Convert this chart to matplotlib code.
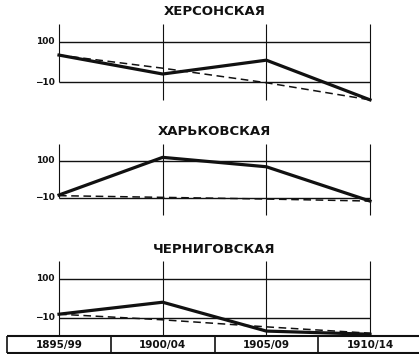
import matplotlib.pyplot as plt

plt.rcParams['font.family'] = ['DejaVu Sans']

periods = ["1895/99", "1900/04", "1905/09", "1910/14"]
regions = ["ХЕРСОНСКАЯ", "ХАРЬКОВСКАЯ", "ЧЕРНИГОВСКАЯ"]
y_ticks = [100, -10]
tick_labels = ["100", "−10"]

# solid line per region
kherson_solid = [64, 12, 50, -59]
kharkov_solid = [-2, 110, 82, -20]
chernigov_solid = [0, 34, -48, -57]
# dashed line per region
kherson_dashed = [64, 28, -12, -59]
kharkov_dashed = [-4, -9, -14, -20]
chernigov_dashed = [0, -16, -36, -54]

W, H = 419, 354
fig = plt.figure(figsize=(W / 100, H / 100), dpi=100)
fig.patch.set_facecolor('white')

# pixel extents of each panel: (top, bottom) of the plotting box
panel_px = [(23.8, 100.2), (143.9, 214.5), (261.4, 335.3)]
x_left, x_right = 59, 370
solids = [kherson_solid, kharkov_solid, chernigov_solid]
dashes = [kherson_dashed, kharkov_dashed, chernigov_dashed]
xs = list(range(len(periods)))
ink = '#111111'

for k, (top, bot) in enumerate(panel_px):
    ax = fig.add_axes([x_left / W, 1 - bot / H, (x_right - x_left) / W, (bot - top) / H])
    ax.set_xlim(0, 3)
    ax.set_ylim(-60, 150)
    ax.axis('off')

    # grid
    for v in y_ticks:
        ax.hlines(v, 0, 3, color=ink, lw=1.0, clip_on=False)
    for x in xs[1:]:
        ax.vlines(x, -60, 150, color=ink, lw=0.8, clip_on=False)
    low = -60 if k == 2 else -10
    ax.vlines(0, low, 150, color=ink, lw=0.8, clip_on=False)

    for v, lab in zip(y_ticks, tick_labels):
        ax.annotate(lab, (0, v), xytext=(-3, 0), textcoords='offset points',
                    ha='right', va='center', fontsize=6.5, fontweight='bold', color=ink)

    ax.plot(xs, dashes[k], color=ink, lw=1.1, dashes=(5, 3), clip_on=False)
    ax.plot(xs, solids[k], color=ink, lw=2.3, solid_joinstyle='round', clip_on=False)

    ax.annotate(regions[k], (0.5, 1), xycoords='axes fraction', xytext=(0, 4),
                textcoords='offset points', ha='center', va='bottom',
                fontsize=9.5, fontweight='bold', color=ink)

# period row at the bottom
cell_w = (x_right - x_left) / 3
tb_top, tb_bot = 335.5, 353
tax = fig.add_axes([(x_left - cell_w / 2) / W, 1 - tb_bot / H,
                    4 * cell_w / W, (tb_bot - tb_top) / H])
tax.set_xlim(-0.5, 3.5)
tax.set_ylim(0, 1)
tax.axis('off')
tax.hlines([0, 1], -0.5, 3.5, color=ink, lw=1.5, clip_on=False)
tax.vlines([x - 0.5 for x in xs] + [3.5], 0, 1, color=ink, lw=1.2, clip_on=False)
for x, lab in zip(xs, periods):
    tax.text(x, 0.45, lab, ha='center', va='center',
             fontsize=7.5, fontweight='bold', color=ink)

fig.savefig("out.png", dpi=100, facecolor='white')
